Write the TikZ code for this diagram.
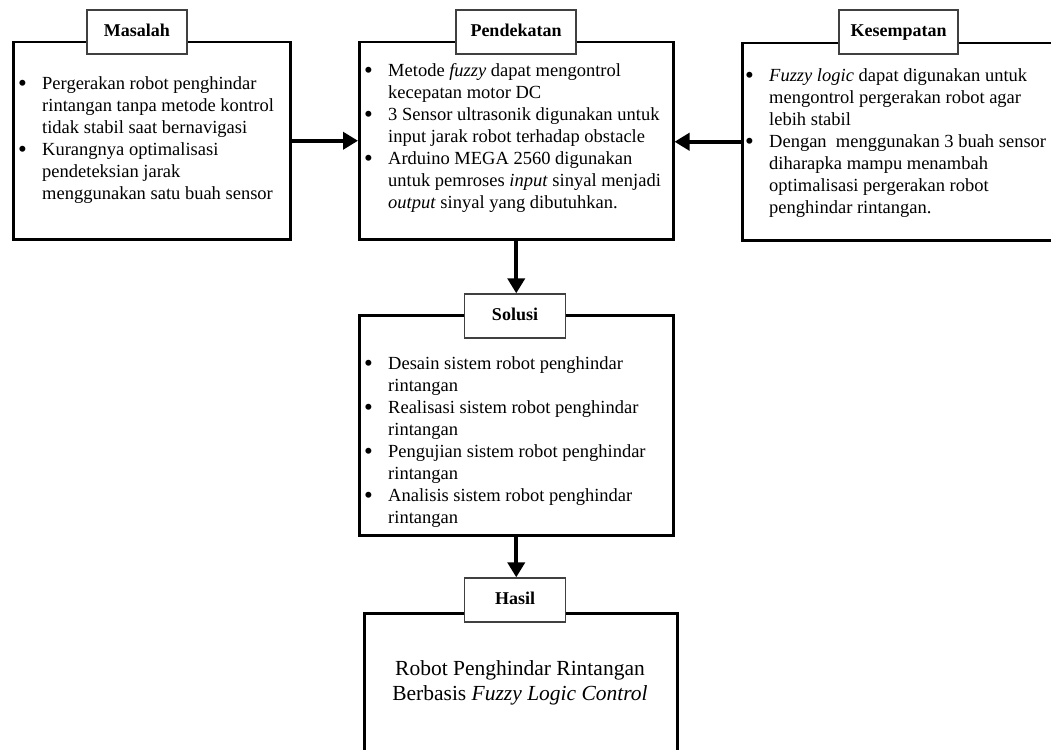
\documentclass[tikz,border=0pt]{standalone}
\usepackage{fontspec}
\usepackage{graphicx}
\setmainfont{Liberation Serif}
\usetikzlibrary{arrows.meta}
\newcommand\bitem{\makebox[25pt][l]{\hspace*{1pt}\raisebox{-1.5pt}{\scalebox{1.35}{\textbullet}}}}
\newcommand\bcont{\hspace*{25pt}}
\begin{document}
\begin{tikzpicture}[x=1pt,y=-1pt,
  bigbox/.style={draw=black, line width=2.5pt, fill=white, inner sep=0pt, anchor=north west},
  tab/.style={draw=black!75, line width=1.3pt, fill=white, minimum height=44pt, inner sep=0pt, text height=12.5pt, text depth=3.5pt, font=\fontsize{18}{20}\selectfont\bfseries},
  body/.style={align=left, inner sep=0pt, anchor=north west, font=\fontsize{18.5}{22}\selectfont},
  arr/.style={line width=4pt, -{Triangle[length=15pt,width=17pt]}}]
\useasboundingbox (0,0) rectangle (1051,749);
\fill[white] (0,0) rectangle (1051,749);
% boxes
\node[bigbox, minimum width=277pt, minimum height=197pt] (masalah) at (12,41) {};
\node[bigbox, minimum width=314pt, minimum height=197pt] (pendekatan) at (358,41) {};
\node[bigbox, minimum width=320pt, minimum height=197pt] (kesempatan) at (741,42) {};
\node[bigbox, minimum width=314pt, minimum height=220pt] (solusi) at (358,314) {};
\node[bigbox, minimum width=313pt, minimum height=160pt] (hasil) at (363,612) {};
% tabs
\node[tab, minimum width=100pt] (masalahT) at (137,32) {Masalah};
\node[tab, minimum width=120pt] (pendekatanT) at (516,32) {Pendekatan};
\node[tab, minimum width=119pt] (kesempatanT) at (898.5,32) {Kesempatan};
\node[tab, minimum width=101pt] (solusiT) at (515,316) {Solusi};
\node[tab, minimum width=101pt] (hasilT) at (515,600) {Hasil};
% texts
\node[body] (masalahX) at (17,76.6) {\bitem Pergerakan robot penghindar\\
\bcont rintangan tanpa metode kontrol\\
\bcont tidak stabil saat bernavigasi\\
\bitem Kurangnya optimalisasi\\
\bcont pendeteksian jarak\\
\bcont menggunakan satu buah sensor};
\node[body] (pendekatanX) at (363,63.6) {\bitem Metode \textit{fuzzy} dapat mengontrol\\
\bcont kecepatan motor DC\\
\bitem 3 Sensor ultrasonik digunakan untuk\\
\bcont input jarak robot terhadap obstacle\\
\bitem Arduino MEGA 2560 digunakan\\
\bcont untuk pemroses \textit{input} sinyal menjadi\\
\bcont \textit{output} sinyal yang dibutuhkan.};
\node[body] (kesempatanX) at (744,68.6) {\bitem \textit{Fuzzy logic} dapat digunakan untuk\\
\bcont mengontrol pergerakan robot agar\\
\bcont lebih stabil\\
\bitem Dengan\ \ menggunakan 3 buah sensor\\
\bcont diharapka mampu menambah\\
\bcont optimalisasi pergerakan robot\\
\bcont penghindar rintangan.};
\node[body] (solusiX) at (363,356.6) {\bitem Desain sistem robot penghindar\\
\bcont rintangan\\
\bitem Realisasi sistem robot penghindar\\
\bcont rintangan\\
\bitem Pengujian sistem robot penghindar\\
\bcont rintangan\\
\bitem Analisis sistem robot penghindar\\
\bcont rintangan};
\node[align=center, inner sep=0pt, font=\fontsize{21.5}{25}\selectfont] (hasilX) at (520,683) {Robot Penghindar Rintangan\\Berbasis \textit{Fuzzy Logic Control}};
% arrows
\draw[arr] (masalah.east) -- (pendekatan.west);
\draw[arr] (kesempatan.west) -- (kesempatan.west -| pendekatan.east);
\draw[arr] (pendekatan.south) -- (pendekatan.south |- solusiT.north);
\draw[arr] (solusi.south) -- (solusi.south |- hasilT.north);
\end{tikzpicture}
\end{document}
